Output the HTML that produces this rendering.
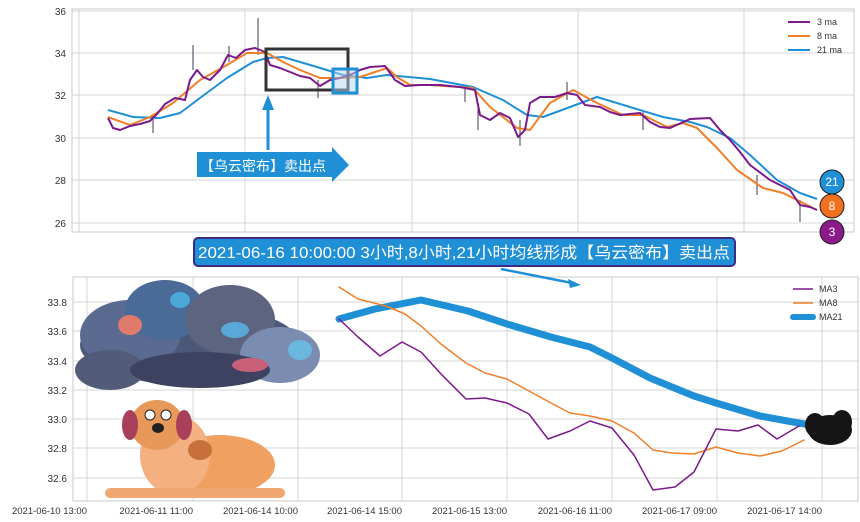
<!DOCTYPE html>
<html><head><meta charset="utf-8"><style>
html,body{margin:0;padding:0;background:#fff;}
svg{display:block;font-family:"Liberation Sans","Noto Sans CJK SC",sans-serif;}
</style></head><body>
<svg width="860" height="522" viewBox="0 0 860 522" xmlns="http://www.w3.org/2000/svg">
<rect width="860" height="522" fill="#fff"/>
<!-- TOP CHART -->
<g stroke="#d4d4d4" stroke-width="1">
<line x1="72" y1="11" x2="854" y2="11"/><line x1="72" y1="53" x2="854" y2="53"/>
<line x1="72" y1="95" x2="854" y2="95"/><line x1="72" y1="138" x2="854" y2="138"/>
<line x1="72" y1="180" x2="854" y2="180"/><line x1="72" y1="223" x2="854" y2="223"/>
<line x1="79" y1="9" x2="79" y2="232"/><line x1="245" y1="9" x2="245" y2="232"/>
<line x1="412" y1="9" x2="412" y2="232"/><line x1="578" y1="9" x2="578" y2="232"/>
<line x1="744" y1="9" x2="744" y2="232"/>
</g>
<rect x="72" y="9" width="782" height="223" fill="none" stroke="#c8c8c8"/>
<g font-size="10" fill="#333" text-anchor="end">
<text x="66" y="15">36</text><text x="66" y="57">34</text><text x="66" y="99">32</text>
<text x="66" y="142">30</text><text x="66" y="184">28</text><text x="66" y="227">26</text>
</g>
<!-- candle wicks -->
<g stroke="#3a3f55" stroke-width="1">
<line x1="193" y1="45" x2="193" y2="70"/><line x1="258" y1="18" x2="258" y2="55"/>
<line x1="153" y1="115" x2="153" y2="133"/><line x1="318" y1="80" x2="318" y2="98"/>
<line x1="229" y1="46" x2="229" y2="62"/><line x1="520" y1="120" x2="520" y2="146"/>
<line x1="478" y1="105" x2="478" y2="130"/><line x1="800" y1="200" x2="800" y2="222"/>
<line x1="757" y1="175" x2="757" y2="195"/><line x1="643" y1="112" x2="643" y2="130"/>
<line x1="567" y1="82" x2="567" y2="100"/><line x1="465" y1="88" x2="465" y2="102"/>
</g>
<g fill="none" stroke-linejoin="round">
<polyline stroke="#1f8fd6" stroke-width="2" points="108,110 133,117 160,118 180,113 200,98 227,78 253,62 267,58 283,57 317,67 343,75 367,78 387,75 430,79 473,87 503,100 527,115 543,117 570,107 597,97 630,107 663,117 690,122 707,127 730,138 750,155 777,180 800,193 817,199"/>
<polyline stroke="#f07f2a" stroke-width="2" points="108,117 130,125 150,117 173,103 200,80 227,65 247,53 267,53 283,62 300,70 320,78 340,78 360,77 387,68 397,77 410,85 430,85 473,88 490,107 517,128 530,130 550,103 573,90 597,103 623,115 643,115 667,127 683,123 697,128 717,148 737,170 763,188 783,193 817,210"/>
<polyline stroke="#7b1a8a" stroke-width="2" points="108,118 113,128 120,130 130,126 140,124 150,121 157,114 165,104 175,98 185,100 190,80 197,70 203,77 210,80 220,70 228,55 236,58 245,50 255,48 265,52 270,65 280,68 290,72 300,76 310,78 320,86 330,80 340,78 350,75 360,70 370,67 385,66 395,80 405,86 420,85 440,85 460,87 475,90 480,115 490,120 500,113 510,118 518,137 525,130 530,103 540,97 555,97 567,93 577,95 585,105 600,107 610,112 620,115 640,113 650,122 660,127 670,128 690,119 710,118 720,130 730,140 740,152 750,165 770,180 780,185 790,190 800,205 810,207 817,210"/>
</g>
<!-- top legend -->
<g stroke-width="2"><line x1="788" y1="22" x2="810" y2="22" stroke="#7b1a8a"/><line x1="788" y1="36" x2="810" y2="36" stroke="#f07f2a"/><line x1="788" y1="50" x2="810" y2="50" stroke="#1f8fd6"/></g>
<g font-size="9" fill="#333"><text x="817" y="25">3 ma</text><text x="817" y="39">8 ma</text><text x="817" y="53">21 ma</text></g>
<!-- annotations -->
<rect x="266" y="49" width="82" height="41" fill="none" stroke="#333" stroke-width="3"/>
<rect x="333" y="69" width="24" height="24" fill="rgba(180,215,240,0.5)" stroke="#1f8fd6" stroke-width="3"/>
<line x1="268" y1="150" x2="268" y2="108" stroke="#1f8fd6" stroke-width="3"/>
<polygon points="262,110 274,110 268,95" fill="#1f8fd6"/>
<polygon points="197,152 332,152 332,147 349,165 332,182 332,177 197,177" fill="#1f8fd6"/>
<text x="200" y="171" font-size="14" fill="#fff">【乌云密布】卖出点</text>
<g font-size="12" fill="#fff" text-anchor="middle" stroke="#222" stroke-width="1">
<circle cx="832" cy="182" r="12" fill="#1f8fd6"/><circle cx="832" cy="206" r="12" fill="#f07020"/><circle cx="832" cy="232" r="12" fill="#8b1a8b"/>
</g>
<g font-size="12" fill="#fff" text-anchor="middle"><text x="832" y="186">21</text><text x="832" y="210">8</text><text x="832" y="236">3</text></g>
<!-- BOTTOM CHART -->
<g stroke="#d4d4d4" stroke-width="1">
<line x1="73" y1="302" x2="858" y2="302"/><line x1="73" y1="331" x2="858" y2="331"/>
<line x1="73" y1="361" x2="858" y2="361"/><line x1="73" y1="390" x2="858" y2="390"/>
<line x1="73" y1="419" x2="858" y2="419"/><line x1="73" y1="448" x2="858" y2="448"/>
<line x1="73" y1="478" x2="858" y2="478"/>
<line x1="87" y1="277" x2="87" y2="501"/><line x1="193" y1="277" x2="193" y2="501"/>
<line x1="298" y1="277" x2="298" y2="501"/><line x1="402" y1="277" x2="402" y2="501"/>
<line x1="507" y1="277" x2="507" y2="501"/><line x1="612" y1="277" x2="612" y2="501"/>
<line x1="717" y1="277" x2="717" y2="501"/><line x1="822" y1="277" x2="822" y2="501"/>
</g>
<rect x="73" y="277" width="785" height="224" fill="none" stroke="#c8c8c8"/>
<g font-size="10" fill="#333" text-anchor="end">
<text x="67" y="306">33.8</text><text x="67" y="335">33.6</text><text x="67" y="365">33.4</text>
<text x="67" y="394">33.2</text><text x="67" y="423">33.0</text><text x="67" y="452">32.8</text><text x="67" y="482">32.6</text>
</g>
<g font-size="9.5" fill="#333" text-anchor="end">
<text x="87" y="514">2021-06-10 13:00</text><text x="193" y="514">2021-06-11 11:00</text>
<text x="298" y="514">2021-06-14 10:00</text><text x="402" y="514">2021-06-14 15:00</text>
<text x="507" y="514">2021-06-15 13:00</text><text x="612" y="514">2021-06-16 11:00</text>
<text x="717" y="514">2021-06-17 09:00</text><text x="822" y="514">2021-06-17 14:00</text>
</g>
<g fill="none" stroke-linejoin="round" stroke-linecap="round">
<polyline stroke="#1f8fd6" stroke-width="7" points="339,319 375,309 421,300 468,311 507,324 551,337 590,347 612,358 650,378 694,396 716,403 760,416 782,420 810,425"/>
<polyline stroke="#f07f2a" stroke-width="1.5" points="339,287 358,299 386,306 405,314 421,326 441,344 466,363 485,373 507,379 529,391 551,403 570,413 590,416 612,421 634,433 653,450 672,453 694,454 716,447 738,453 760,456 782,451 804,440"/>
<polyline stroke="#7b1a8a" stroke-width="1.5" points="339,319 358,337 380,356 402,342 421,352 441,374 466,399 485,398 507,403 529,414 548,439 570,431 590,421 612,428 634,455 653,490 675,487 694,472 716,429 738,431 758,425 777,439 799,426"/>
</g>
<!-- bottom legend -->
<line x1="793" y1="289" x2="813" y2="289" stroke="#7b1a8a" stroke-width="1.5"/>
<line x1="793" y1="303" x2="813" y2="303" stroke="#f07f2a" stroke-width="1.5"/>
<line x1="793" y1="317" x2="813" y2="317" stroke="#1f8fd6" stroke-width="6" stroke-linecap="round"/>
<g font-size="9" fill="#333"><text x="819" y="292">MA3</text><text x="819" y="306">MA8</text><text x="819" y="320">MA21</text></g>
<!-- title box -->
<rect x="194" y="238" width="541" height="28" rx="4" fill="#1f8fd6" stroke="#3a2a8a" stroke-width="2"/>
<text x="198" y="258" font-size="16" fill="#fff" textLength="532" lengthAdjust="spacingAndGlyphs">2021-06-16 10:00:00 3小时,8小时,21小时均线形成【乌云密布】卖出点</text>
<line x1="501" y1="269" x2="572" y2="283" stroke="#1f8fd6" stroke-width="2.5"/>
<polygon points="581,285 568,279 570,288" fill="#1f8fd6"/>
<!-- cloud -->
<g>
<ellipse cx="190" cy="345" rx="110" ry="40" fill="#4c5878"/>
<ellipse cx="130" cy="335" rx="50" ry="35" fill="#5a6a90"/>
<ellipse cx="165" cy="310" rx="40" ry="30" fill="#4a6a98"/>
<ellipse cx="230" cy="320" rx="45" ry="35" fill="#5c6480"/>
<ellipse cx="280" cy="355" rx="40" ry="28" fill="#7a8cb0"/>
<ellipse cx="110" cy="370" rx="35" ry="20" fill="#525c78"/>
<ellipse cx="200" cy="370" rx="70" ry="18" fill="#3c4260"/>
<ellipse cx="130" cy="325" rx="12" ry="10" fill="#e07a6a"/>
<ellipse cx="180" cy="300" rx="10" ry="8" fill="#4aa8d8"/>
<ellipse cx="250" cy="365" rx="18" ry="7" fill="#c8607a"/>
<ellipse cx="300" cy="350" rx="12" ry="10" fill="#6ab8e0"/>
<ellipse cx="235" cy="330" rx="14" ry="8" fill="#5aa8d8"/>
</g>
<!-- dog -->
<g>
<ellipse cx="220" cy="465" rx="55" ry="30" fill="#f0a060"/>
<ellipse cx="175" cy="455" rx="35" ry="40" fill="#f4b080"/>
<ellipse cx="157" cy="425" rx="27" ry="25" fill="#e89858"/>
<ellipse cx="130" cy="425" rx="8" ry="15" fill="#a8405a"/>
<ellipse cx="184" cy="425" rx="8" ry="15" fill="#a8405a"/>
<rect x="105" y="488" width="180" height="10" rx="5" fill="#f0a870"/>
<circle cx="150" cy="415" r="5" fill="#fff" stroke="#222"/><circle cx="166" cy="415" r="5" fill="#fff" stroke="#222"/>
<ellipse cx="158" cy="428" rx="6" ry="5" fill="#222"/>
<ellipse cx="200" cy="450" rx="12" ry="10" fill="#c8703a"/>
</g>
<!-- black cloud -->
<g fill="#151515"><ellipse cx="830" cy="430" rx="22" ry="15"/><ellipse cx="815" cy="425" rx="10" ry="12"/><ellipse cx="842" cy="422" rx="10" ry="12"/></g>
</svg>
</body></html>
